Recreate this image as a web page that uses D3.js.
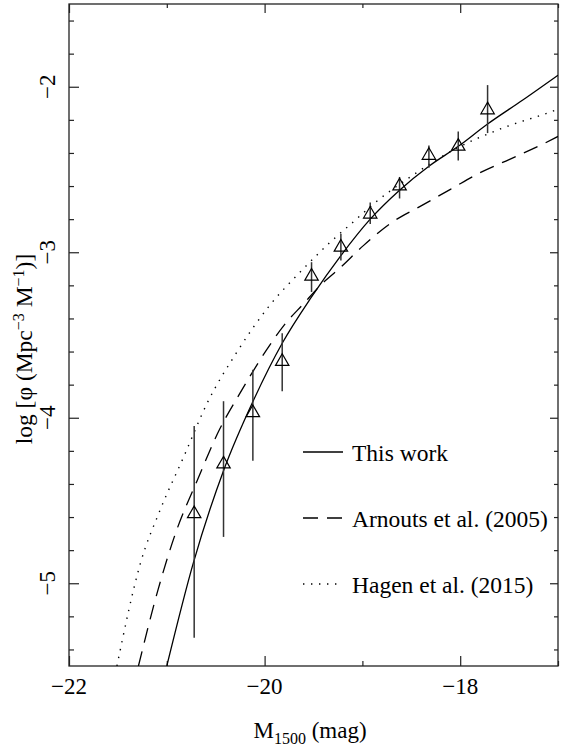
<!DOCTYPE html>
<html>
<head>
<meta charset="utf-8">
<script src="https://cdn.jsdelivr.net/npm/d3@7"></script>
<style>
  html, body { margin: 0; padding: 0; background: #fff; }
  svg { display: block; font-family: "Liberation Serif", "Times New Roman", serif; }
</style>
</head>
<body>
<svg id="chart" width="561" height="749"></svg>
<script>
// ---- data ----
const obsM      = [-20.72, -20.42, -20.12, -19.82, -19.52, -19.22, -18.92, -18.62, -18.32, -18.02, -17.72];
const obsLogPhi = [-4.58, -4.28, -3.97, -3.66, -3.145, -2.97, -2.77, -2.60, -2.415, -2.36, -2.14];
const obsHigh   = [-4.05, -3.90, -3.71, -3.49, -3.06, -2.89, -2.70, -2.545, -2.355, -2.27, -1.99];
const obsLow    = [-5.33, -4.72, -4.26, -3.84, -3.24, -3.05, -2.83, -2.675, -2.49, -2.445, -2.28];

const thisWorkM   = [-21.00, -20.73, -20.42, -20.11, -19.82, -19.52, -19.22, -18.92, -18.62, -18.32, -18.02, -17.72, -17.36, -17.00];
const thisWorkPhi = [-5.50, -4.88, -4.32, -3.89, -3.55, -3.27, -3.02, -2.80, -2.625, -2.48, -2.36, -2.225, -2.08, -1.93];

const arnoutsM   = [-21.29, -21.09, -20.90, -20.69, -20.46, -20.25, -19.98, -19.80, -19.60, -19.43, -19.22, -18.99, -18.70, -18.40, -18.10, -17.80, -17.50, -17.15, -17.00];
const arnoutsPhi = [-5.50, -5.04, -4.68, -4.38, -4.07, -3.85, -3.59, -3.44, -3.31, -3.20, -3.09, -2.96, -2.82, -2.72, -2.62, -2.52, -2.44, -2.345, -2.30];

const hagenM   = [-21.51, -21.27, -21.07, -20.83, -20.59, -20.28, -19.96, -19.62, -19.33, -19.09, -18.88, -18.51, -18.03, -17.59, -17.03, -17.00];
const hagenPhi = [-5.50, -4.88, -4.56, -4.24, -3.915, -3.60, -3.33, -3.11, -2.94, -2.815, -2.705, -2.545, -2.37, -2.255, -2.142, -2.135];

const xMajorTicks = [-22, -20, -18];
const xMinorTicks = [-21, -19, -17];
const yMajorTicks = [-5, -4, -3, -2];
const yMinorTicks = [-5.4, -5.2, -4.8, -4.6, -4.4, -4.2, -3.8, -3.6, -3.4, -3.2, -2.8, -2.6, -2.4, -2.2, -1.8, -1.6];

const legendLabels = ["This work", "Arnouts et al. (2005)", "Hagen et al. (2015)"];
const xDomain = [-22, -17];
const yDomain = [-5.5, -1.5];

// ---- layout ----
const svg = d3.select("#chart");
const L = 69, R = 558, T = 4, B = 666;
const x = d3.scaleLinear().domain(xDomain).range([L, R]);
const y = d3.scaleLinear().domain(yDomain).range([B, T]);
const FS = 23.5;
const FT = 23;

svg.append("clipPath").attr("id", "plotclip")
  .append("rect").attr("x", L).attr("y", T).attr("width", R - L).attr("height", B - T);

function tickAxis(axisFn, scale, ticks, size, transform) {
  const g = svg.append("g").attr("transform", transform)
    .call(axisFn(scale).tickValues(ticks).tickSizeInner(-size).tickSizeOuter(0).tickFormat(""));
  g.select(".domain").remove();
  g.selectAll(".tick line").attr("stroke", "#222").attr("stroke-width", 1.2);
  return g;
}

// ticks (inward)
tickAxis(d3.axisBottom, x, xMajorTicks, 10, `translate(0,${B})`);
tickAxis(d3.axisBottom, x, xMinorTicks, 5, `translate(0,${B})`);
tickAxis(d3.axisTop, x, xMajorTicks, 9, `translate(0,${T})`);
tickAxis(d3.axisTop, x, xMinorTicks, 4, `translate(0,${T})`);
tickAxis(d3.axisLeft, y, yMajorTicks, 10, `translate(${L},0)`);
tickAxis(d3.axisLeft, y, yMinorTicks, 5, `translate(${L},0)`);
tickAxis(d3.axisRight, y, yMajorTicks, 8, `translate(${R},0)`);
tickAxis(d3.axisRight, y, yMinorTicks, 4, `translate(${R},0)`);

// frame
svg.append("rect").attr("x", L).attr("y", T).attr("width", R - L).attr("height", B - T)
  .attr("fill", "none").attr("stroke", "#222").attr("stroke-width", 1.3);

// tick labels
const fmt = d3.format("d");
svg.append("g").selectAll("text").data(xMajorTicks).join("text")
  .attr("x", d => x(d)).attr("y", 694)
  .attr("text-anchor", "middle").attr("font-size", FT).attr("fill", "#000")
  .text(d => fmt(d));
svg.append("g").selectAll("text").data(yMajorTicks).join("text")
  .attr("transform", d => `translate(55,${y(d)}) rotate(-90)`)
  .attr("text-anchor", "middle").attr("font-size", FT).attr("fill", "#000")
  .text(d => fmt(d));

// axis titles
const xt = svg.append("text").attr("x", 310).attr("y", 738)
  .attr("text-anchor", "middle").attr("font-size", FT).attr("fill", "#000");
xt.append("tspan").text("M");
xt.append("tspan").attr("font-size", 16).attr("dy", 6).text("1500");
xt.append("tspan").attr("dy", -6).text(" (mag)");

const yt = svg.append("text").attr("transform", `translate(32,${(T + B) / 2 + 14}) rotate(-90)`)
  .attr("text-anchor", "middle").attr("font-size", FS).attr("fill", "#000");
yt.append("tspan").text("log [φ (Mpc");
yt.append("tspan").attr("font-size", 16).attr("dy", -8).text("−3");
yt.append("tspan").attr("dy", 8).text(" M");
yt.append("tspan").attr("font-size", 16).attr("dy", -8).text("−1");
yt.append("tspan").attr("dy", 8).text(")]");

// curves
const plot = svg.append("g").attr("clip-path", "url(#plotclip)");
const line = d3.line().x(d => x(d[0])).y(d => y(d[1])).curve(d3.curveMonotoneX);
const curves = [
  { m: thisWorkM, p: thisWorkPhi, dash: null, w: 1.3 },
  { m: arnoutsM, p: arnoutsPhi, dash: "15,9", w: 1.3 },
  { m: hagenM, p: hagenPhi, dash: "1.4,6.6", w: 1.4 }
];
curves.forEach(c => {
  plot.append("path").datum(c.m.map((v, i) => [v, c.p[i]]))
    .attr("d", line).attr("fill", "none").attr("stroke", "#000")
    .attr("stroke-width", c.w).attr("stroke-dasharray", c.dash);
});

// error bars
plot.append("g").selectAll("line").data(obsM).join("line")
  .attr("x1", d => x(d)).attr("x2", d => x(d))
  .attr("y1", (d, i) => y(obsHigh[i])).attr("y2", (d, i) => y(obsLow[i]))
  .attr("stroke", "#333").attr("stroke-width", 1.5);

// triangles (centroid at data value)
const tri = d3.symbol().type(d3.symbolTriangle).size(78);
plot.append("g").selectAll("path").data(obsM).join("path")
  .attr("transform", (d, i) => `translate(${x(d)},${y(obsLogPhi[i])})`)
  .attr("d", tri).attr("fill", "none").attr("stroke", "#000").attr("stroke-width", 1.2);

// legend
const legY = [452, 518, 584];
const leg = svg.append("g");
legendLabels.forEach((lab, i) => {
  leg.append("line").attr("x1", 303).attr("x2", 343).attr("y1", legY[i]).attr("y2", legY[i])
    .attr("stroke", "#000").attr("stroke-width", 1.3)
    .attr("stroke-dasharray", curves[i].dash);
  leg.append("text").attr("x", 352).attr("y", legY[i] + 8.5)
    .attr("font-size", FS).attr("fill", "#000").text(lab);
});
</script>
</body>
</html>
